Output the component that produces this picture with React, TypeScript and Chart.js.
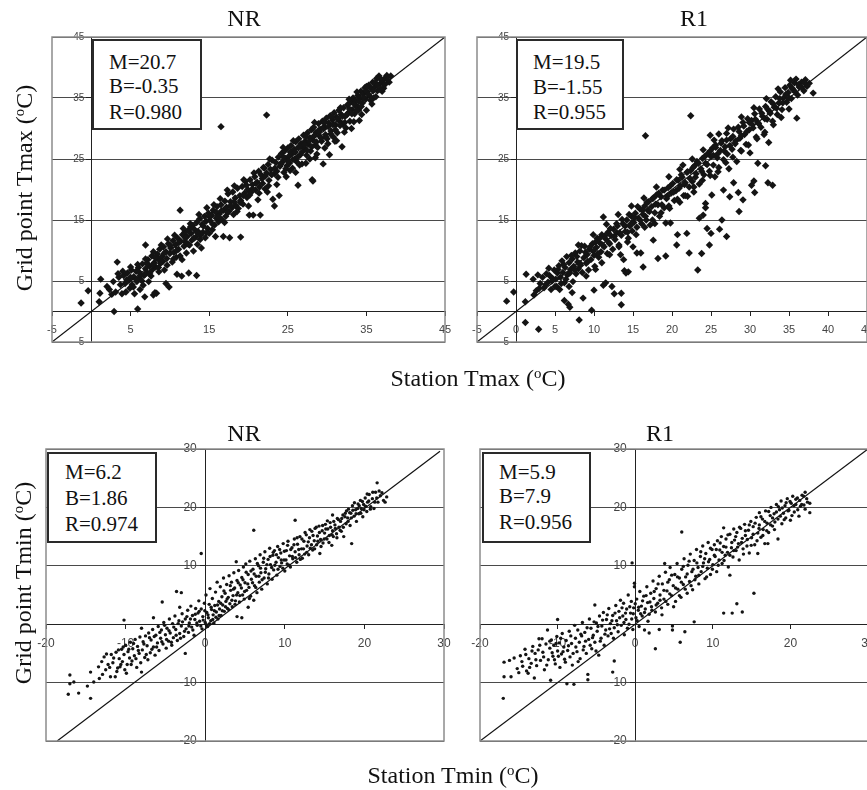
import React, { useEffect, useRef } from 'react';
import { Chart, registerables } from 'chart.js';
Chart.register(...registerables);

// ---------- tick labels ----------
const tmaxXTicksNR = [-5, 5, 15, 25, 35, 45];
const tmaxXTicksR1 = [-5, 0, 5, 10, 15, 20, 25, 30, 35, 40, 45];
const tmaxYTicks = [-5, 5, 15, 25, 35, 45];
const tminXTicks = [-20, -10, 0, 10, 20, 30];
const tminYTicks = [-20, -10, 10, 20, 30];

// ---------- stats boxes ----------
const statsTmaxNR = ['M=20.7', 'B=-0.35', 'R=0.980'];
const statsTmaxR1 = ['M=19.5', 'B=-1.55', 'R=0.955'];
const statsTminNR = ['M=6.2', 'B=1.86', 'R=0.974'];
const statsTminR1 = ['M=5.9', 'B=7.9', 'R=0.956'];

// ---------- 1:1 reference lines (end points) ----------
const diagTmaxNR = [[-5, -5], [45, 45]];
const diagTmaxR1 = [[-5, -5], [45, 45]];
const diagTminNR = [[-18.6, -20], [29.5, 29.6]];
const diagTminR1 = [[-20, -20], [30, 30]];

// ---------- station (x) vs grid point (y) values ----------
const tmaxNR = [
[-1.3,1.4],[-0.4,3.4],[1.1,3.0],[1.2,5.3],[1.0,1.6],[2.0,4.1],[2.3,3.6],[2.6,2.8],[2.9,0.0],[2.8,4.9],[3.3,8.1],[3.1,3.2],[3.5,5.6],[3.7,4.4],[3.9,2.9],
[4.1,5.9],[4.3,4.6],[4.4,3.2],[4.6,6.3],[4.8,5.1],[4.9,3.8],[5.1,6.8],[5.2,4.4],[5.4,5.7],[5.5,2.9],[5.7,6.6],[5.8,4.9],[5.9,0.4],[6.0,7.2],[6.1,5.5],[6.2,3.6],[6.3,6.1],[6.5,7.8],[6.6,4.3],[6.7,5.9],[6.8,2.4],[6.9,10.9],[6.9,7.0],[7.1,6.4],[7.2,8.5],[7.3,4.9],[7.4,7.5],[7.6,5.8],[7.7,9.1],[7.8,6.9],[7.9,2.7],[8.0,8.0],[8.1,3.1],[8.2,7.3],
[8.3,3.0],[8.4,9.4],[8.5,8.6],[8.6,6.5],[8.7,10.2],[8.8,7.9],[9.0,9.0],[9.1,8.2],[9.2,10.6],[9.3,6.8],[9.5,4.6],[9.5,9.8],[9.6,8.7],[9.8,11.1],[9.9,4.0],[10.0,9.5],[10.1,10.4],[10.3,8.1],[10.4,11.6],[10.5,9.7],[10.7,10.9],[10.8,8.9],[10.9,6.1],[11.0,12.0],[11.1,10.2],[11.3,16.6],[11.3,9.1],[11.4,11.5],[11.5,5.8],[11.6,12.6],[11.8,10.7],[11.9,13.0],[12.0,11.4],[12.1,9.6],
[12.2,12.3],[12.4,6.3],[12.4,13.4],[12.5,10.9],[12.7,12.8],[12.8,11.7],[12.9,14.1],[13.0,9.9],[13.1,13.5],[13.3,12.2],[13.4,5.9],[13.4,14.6],[13.5,11.0],[13.6,13.1],[13.8,15.2],[13.9,12.5],[14.0,10.4],[14.1,14.3],[14.2,13.0],[14.4,15.6],[14.5,12.1],[14.6,14.8],[14.8,13.6],[14.9,16.1],[15.0,12.8],[15.1,14.9],[15.3,15.8],[15.4,13.4],[15.5,16.6],[15.7,14.2],[15.8,12.3],[15.9,15.3],
[16.0,17.2],[16.2,14.7],[16.3,16.0],[16.5,30.3],[16.5,17.5],[16.6,15.1],[16.8,12.3],[16.8,16.6],[17.0,18.1],[17.1,15.6],[17.2,17.1],[17.4,19.3],[17.5,16.4],[17.6,12.1],[17.7,18.0],[17.9,17.0],[18.0,19.6],[18.1,15.9],[18.3,18.6],[18.4,17.4],[18.6,20.2],[18.7,16.9],[18.9,19.0],[19.0,12.2],[19.0,18.2],[19.2,20.5],[19.3,17.6],[19.5,19.4],[19.6,21.3],[19.8,18.7],[19.9,20.0],
[20.1,15.8],[20.2,21.6],[20.3,19.5],[20.5,20.8],[20.6,15.8],[20.8,22.1],[20.9,19.9],[21.1,21.2],[21.3,23.0],[21.4,20.4],[21.5,15.8],[21.6,22.4],[21.8,21.0],[22.0,23.5],[22.1,20.1],[22.3,32.2],[22.3,22.7],[22.5,24.1],[22.6,21.5],[22.8,23.3],[23.0,24.8],[23.1,18.4],[23.3,17.3],[23.3,22.6],[23.5,24.4],[23.6,23.0],[23.8,25.3],[23.9,19.0],[24.0,23.8],
[24.2,25.9],[24.3,24.5],[24.5,22.8],[24.6,26.3],[24.7,25.1],[24.9,23.9],[25.0,26.8],[25.1,25.4],[25.2,24.3],[25.4,27.2],[25.5,25.8],[25.6,23.5],[25.8,26.6],[25.9,25.0],[26.0,27.8],[26.1,24.6],[26.3,20.7],[26.3,26.9],[26.4,28.3],[26.6,25.7],[26.7,27.5],[26.8,24.2],[27.0,28.9],[27.1,26.8],[27.2,27.9],[27.4,25.6],[27.5,29.3],[27.6,27.4],[27.8,28.5],[27.9,26.3],[28.0,29.8],[28.1,21.6],
[28.2,21.4],[28.2,28.1],[28.3,30.2],[28.5,27.3],[28.6,29.4],[28.7,25.8],[28.9,30.8],[29.0,28.8],[29.1,29.9],[29.3,27.9],[29.4,31.2],[29.5,24.2],[29.6,30.3],[29.8,29.0],[29.9,31.7],[30.0,28.3],[30.2,30.9],[30.3,25.7],[30.4,32.1],[30.5,29.6],[30.7,31.4],[30.8,28.6],[30.9,32.6],[31.1,30.6],[31.2,31.9],[31.3,29.3],[31.5,33.0],[31.6,31.2],[31.8,32.3],[31.9,27.0],[32.0,30.7],
[32.1,33.4],[32.3,32.0],[32.4,30.1],[32.6,33.9],[32.7,32.6],[32.9,31.2],[33.0,34.3],[33.2,33.1],[33.3,35.0],[33.5,32.4],[33.6,34.6],[33.7,33.7],[33.9,35.4],[34.0,33.0],[34.2,34.9],[34.3,36.1],[34.5,34.2],[34.6,35.6],[34.8,36.7],[34.9,34.8],[35.0,33.0],[35.1,36.0],[35.3,37.1],[35.4,35.3],[35.6,36.5],[35.8,37.6],[35.9,35.0],[36.1,36.9],[36.3,38.2],[36.4,36.2],[36.6,38.6],[36.8,37.4],[37.0,36.1],[37.2,36.6],[37.4,38.3],[37.6,38.7],[38.1,38.6],[37.9,37.6]
];
const tmaxNRMore = [
[4.5,5.2],[5.0,5.6],[5.35,4.0],[5.75,5.2],[6.05,6.5],[6.45,5.0],[6.85,6.1],[7.05,7.9],[7.45,6.3],[7.85,7.7],[8.15,8.8],[8.55,7.2],[8.95,8.1],[9.25,9.5],[9.65,7.6],[10.05,10.8],[10.45,8.6],[10.85,10.0],[11.15,11.3],[11.55,8.5],[11.95,12.1],[12.35,11.0],[12.65,13.9],[13.05,12.0],[13.45,13.0],[13.85,11.8],[14.25,14.0],[14.65,12.9],[15.05,15.5],[15.45,14.3],[15.85,16.3],[16.15,15.5],[16.55,16.5],[16.95,14.6],[17.35,16.2],[17.75,17.3],[18.15,18.0],[18.55,16.4],[18.95,17.9],[19.35,19.0],[19.75,20.7],[20.15,19.1],[20.55,20.1],[20.95,21.0],[21.35,19.4],[21.75,21.8],[22.15,22.2],[22.55,20.6],[22.95,22.4],[23.35,23.5],[23.75,22.0],[24.15,24.2],[24.45,25.3],[24.75,23.4],[25.05,24.6],[25.35,26.1],[25.65,24.9],[25.95,26.1],[26.25,25.3],[26.55,27.1],[26.85,26.2],[27.15,27.3],[27.45,26.4],[27.75,28.0],[28.05,27.0],[28.35,28.8],[28.65,27.8],[28.95,29.5],[29.25,28.4],[29.55,30.0],[29.85,28.6],[30.15,30.3],[30.45,29.1],[30.75,30.6],[31.05,29.8],[31.35,31.6],[31.65,30.5],[31.95,32.0],[32.25,31.0],[32.55,32.3],[32.85,33.2],[33.15,32.4],[33.45,34.0],[33.75,33.0],[34.05,34.4],[34.35,33.6],[34.65,35.1],[34.95,36.2],[35.25,35.6],[35.55,34.6],[35.85,36.2],[36.15,37.5],[36.45,37.1],[36.75,36.4],[37.05,37.8],[37.35,37.2],[37.7,38.0],
[24.4,26.9],[25.3,23.1],[25.7,28.0],[26.5,24.0],[27.3,28.7],[27.8,25.0],[28.4,31.0],[28.8,26.9],[29.7,31.0],[30.1,27.5],[30.6,31.9],[31.0,27.9],[31.7,33.4],[32.2,29.4],[32.8,34.8],[33.4,31.1],[33.8,36.0],[34.4,32.3],[35.0,36.9],[35.7,34.0],[36.2,35.2],[36.7,38.2],[22.7,25.0],[21.9,23.6],[20.7,22.7],[19.4,21.6],[18.2,20.6],[17.3,19.9],[16.4,18.5],[15.6,17.5],[14.7,17.0],[13.7,15.9],[12.6,14.4],[11.7,13.6],[10.6,12.5],[9.7,11.9],[8.9,10.9],[7.9,9.8],[6.9,8.6],[5.9,7.7],[5.0,7.3],[4.0,6.6],[3.4,6.2],[20.0,17.3],[21.2,18.3],[22.4,19.6],[23.6,20.8],[24.8,22.1],[26.0,22.8],[27.3,24.3],[28.5,25.2],[29.7,26.8],[31.2,28.0],[33.1,30.0],[34.1,31.3]
];

const tmaxR1 = [
[-1.2,1.7],[-0.3,3.2],[1.2,-1.8],[1.3,6.1],[1.2,1.6],[2.9,-2.9],[2.3,2.7],[2.6,3.4],[2.2,5.3],[2.8,6.0],[3.1,4.6],[3.4,5.6],[3.6,3.9],[3.9,6.2],[4.1,4.8],[4.3,5.9],[4.5,3.6],[4.7,5.4],[4.9,6.8],[5.0,4.1],[5.2,4.1],[5.3,6.3],[5.5,7.5],[5.6,3.6],[5.7,5.6],[5.9,8.3],[6.0,6.4],[6.2,1.8],[6.2,4.7],[6.3,7.2],[6.5,9.0],[6.6,6.0],[6.7,1.2],[6.8,4.1],[6.8,8.0],[6.9,0.7],[7.0,6.9],[7.2,3.1],[7.2,8.6],[7.3,4.9],[7.4,7.4],[7.6,9.6],[7.7,6.2],[7.9,8.1],[8.0,7.0],[8.1,-1.4],[8.2,9.9],[8.3,7.6],[8.5,6.4],[8.6,2.2],[8.7,8.8],[8.8,10.7],[9.0,7.9],[9.1,9.3],[9.3,6.8],[9.4,10.2],[9.6,8.5],[9.7,0.2],[9.8,11.1],[10.0,3.5],[10.0,9.2],[10.1,7.4],
[10.3,10.5],[10.4,12.0],[10.6,8.9],[10.7,11.3],[10.9,9.8],[11.0,12.6],[11.2,4.3],[11.2,15.5],[11.3,10.6],[11.5,4.7],[11.5,11.9],[11.7,9.5],[11.8,13.0],[12.0,11.1],[12.2,12.4],[12.3,4.1],[12.4,10.2],[12.5,13.5],[12.6,2.9],[12.7,11.8],[12.9,12.9],[13.0,14.0],[13.2,10.9],[13.4,9.3],[13.5,3.0],[13.5,1.1],[13.5,12.5],[13.7,14.4],[13.8,8.5],[13.9,6.7],[14.0,13.1],[14.1,6.3],[14.2,15.0],[14.4,6.5],[14.4,12.0],[14.6,14.0],[14.8,15.6],[14.9,13.2],[15.0,10.6],
[15.1,14.6],[15.3,16.1],[15.5,9.6],[15.5,13.8],[15.7,15.3],[15.9,16.8],[16.0,9.6],[16.1,14.4],[16.3,7.3],[16.3,15.9],[16.5,17.3],[16.6,28.8],[16.7,15.0],[16.9,16.6],[17.0,18.0],[17.2,14.2],[17.4,17.2],[17.6,11.7],[17.6,18.6],[17.8,14.4],[17.8,16.2],[18.0,19.1],[18.2,8.7],[18.2,17.5],[18.4,15.6],[18.6,18.8],[18.8,19.9],[19.0,17.0],[19.2,9.1],[19.2,14.5],[19.3,18.5],[19.5,20.3],[19.7,16.9],[19.8,14.5],[19.9,19.4],
[20.1,21.0],[20.3,18.2],[20.5,19.8],[20.6,10.9],[20.7,12.6],[20.8,21.5],[21.0,17.9],[21.1,20.6],[21.3,22.0],[21.4,24.0],[21.5,19.0],[21.7,21.1],[21.9,12.8],[21.9,22.8],[22.0,18.9],[22.2,9.6],[22.2,20.4],[22.4,32.1],[22.4,23.1],[22.6,21.3],[22.8,19.6],[22.9,23.9],[23.0,22.0],[23.2,24.6],[23.3,6.8],[23.5,15.3],[23.5,20.9],[23.7,23.4],[23.8,9.5],[23.9,25.1],[24.0,15.8],[24.1,22.4],[24.3,17.0],[24.3,17.7],[24.3,24.3],[24.5,13.6],[24.6,25.9],[24.8,10.9],[24.8,23.0],[24.9,28.9],[25.0,12.8],[25.0,25.4],
[25.1,19.1],[25.2,26.8],[25.3,24.0],[25.5,22.1],[25.6,27.3],[25.8,25.2],[26.0,29.1],[26.0,23.6],[26.1,13.5],[26.2,26.4],[26.4,15.0],[26.4,28.0],[26.6,19.9],[26.6,24.9],[26.8,27.0],[27.0,12.3],[27.0,29.2],[27.1,25.8],[27.3,23.4],[27.4,18.8],[27.5,28.3],[27.7,26.6],[27.9,21.1],[27.9,29.9],[28.1,27.5],[28.3,24.6],[28.5,19.5],[28.5,30.2],[28.6,16.4],[28.7,28.4],[28.9,26.3],[29.1,18.3],[29.1,31.0],[29.3,29.0],[29.5,27.4],[29.7,31.6],[29.9,29.8],
[30.0,26.0],[30.2,20.7],[30.2,31.3],[30.4,30.1],[30.5,21.4],[30.6,19.5],[30.6,32.4],[30.8,28.6],[31.0,24.3],[31.0,31.0],[31.2,33.2],[31.4,30.2],[31.6,32.0],[31.8,29.0],[32.0,23.9],[32.0,33.6],[32.2,31.5],[32.3,21.1],[32.4,27.7],[32.5,32.8],[32.7,34.4],[32.9,20.7],[32.9,31.2],[33.1,33.5],[33.3,35.2],[33.5,32.3],[33.7,34.2],[33.9,36.0],[34.1,33.1],[34.3,35.0],[34.5,36.7],[34.7,34.3],[34.9,35.9],[35.1,37.1],[35.3,34.9],[35.5,36.4],[35.7,37.5],[35.9,38.1],[36.0,31.7],[36.1,35.5],[36.3,36.8],[36.6,37.6],[36.9,36.2],[37.1,38.0],[37.3,36.9],[38.1,35.8],[37.6,37.4]
];
const tmaxR1More = [
[3.0,3.8],[3.8,4.4],[4.2,7.1],[4.6,5.0],[5.1,5.3],[5.4,6.9],[5.8,4.6],[6.1,7.7],[6.4,5.3],[6.9,6.3],[7.1,9.2],[7.5,6.8],[7.8,9.0],[8.2,7.9],[8.4,10.8],[8.9,9.7],[9.2,8.2],[9.5,10.6],[9.9,9.9],[10.2,11.4],[10.5,9.5],[10.8,12.1],[11.1,10.9],[11.4,12.4],[11.9,11.3],[12.1,13.6],[12.6,12.3],[12.9,14.4],[13.3,12.9],[13.6,15.1],[14.0,14.0],[14.3,13.0],[14.5,15.9],[14.9,14.6],[15.2,15.4],[15.6,17.2],[15.9,15.0],[16.2,16.6],[16.6,15.6],[16.8,17.9],[17.1,16.4],[17.5,18.5],[17.9,17.6],[18.3,19.4],[18.7,17.5],[19.0,19.9],[19.4,18.9],[19.8,20.6],[20.2,19.6],[20.6,21.6],[20.9,20.2],[21.2,22.4],[21.6,20.8],[22.0,22.9],[22.3,21.8],[22.7,23.6],[23.1,22.6],[23.4,24.3],[23.8,23.0],[24.2,25.4],[24.5,24.1],[24.9,26.3],[25.3,25.6],[25.6,26.9],[25.9,25.9],[26.3,27.6],[26.7,26.3],[27.0,28.1],[27.4,27.2],[27.8,28.7],[28.2,28.0],[28.6,29.5],[28.9,28.8],[29.2,30.4],[29.6,29.5],[29.9,31.0],[30.3,30.6],[30.7,31.5],[31.1,30.8],[31.5,32.5],[31.9,31.6],[32.3,33.1],[32.6,32.5],[33.0,34.0],[33.4,33.3],[33.8,34.9],[34.2,34.2],[34.6,35.6],[35.0,35.0],[35.4,36.6],[35.8,36.0],[36.2,37.2],[36.6,36.8],[37.0,37.5],
[12.0,9.3],[13.2,10.6],[14.3,11.4],[15.4,12.6],[16.5,13.8],[17.5,15.0],[18.6,16.2],[19.6,17.3],[20.7,18.4],[21.7,19.0],[22.8,20.4],[23.9,21.5],[24.9,22.3],[25.9,22.9],[26.9,24.4],[27.8,25.3],[28.8,26.4],[29.8,27.3],[30.9,28.3],[31.9,29.4],[33.0,30.6],[34.0,31.8],[35.0,33.2],[9.0,5.8],[10.2,6.9],[11.0,8.0],
[8.0,10.9],[9.9,12.6],[11.6,14.3],[13.1,15.9],[14.8,17.3],[16.4,18.6],[18.0,20.4],[19.6,22.1],[21.0,23.3],[22.6,25.0],[24.0,26.5],[25.4,28.1],[27.2,30.1],[28.9,31.9],[30.5,33.4],[32.1,34.9],[33.6,36.5],[35.2,37.9]
];

const tminNR = [
[-17.2,-12.0],[-17.0,-8.7],[-17.0,-10.2],[-16.5,-9.9],[-15.9,-11.8],[-14.8,-10.6],[-14.4,-12.7],[-14.4,-8.2],[-14.0,-9.9],[-13.4,-7.3],[-13.3,-9.3],[-13.0,-6.4],[-12.7,-5.6],[-12.5,-7.8],[-12.2,-6.9],[-11.9,-9.0],[-11.8,-5.2],[-11.6,-6.6],[-11.3,-9.0],[-11.2,-4.8],[-11.0,-7.5],[-10.8,-5.9],[-10.7,-7.3],[-10.5,-4.3],[-10.4,-6.4],[-10.2,0.7],[-10.2,-5.2],[-10.0,-3.6],[-9.9,-8.4],[-9.8,-6.9],[-9.7,-4.7],[-9.5,-5.8],[-9.4,-3.1],[-9.2,-6.3],[-9.1,-4.2],[-8.9,-5.4],[-8.8,-2.6],[-8.6,-7.4],[-8.5,-3.8],[-8.3,-5.0],[-8.2,-2.2],[-8.0,-8.2],[-8.0,-0.7],[-7.9,-4.4],[-7.8,-3.0],[-7.6,-5.7],[-7.5,-2.0],[-7.3,-3.7],[-7.2,-6.1],[-7.1,-1.5],[-6.9,-4.9],[-6.8,-2.7],[-6.6,-0.9],[-6.5,1.1],[-6.5,-3.9],[-6.3,-5.3],[-6.2,-1.9],[-6.0,-3.2],[-5.9,-0.4],[-5.8,-4.5],[-5.6,-2.4],[-5.5,-1.0],[-5.4,3.8],[-5.3,-3.4],[-5.2,0.3],[-5.0,-1.8],[-4.9,-4.1],[-4.8,-0.7],[-4.6,-2.9],[-4.5,0.9],[-4.4,-1.5],[-4.2,-3.6],[-4.1,0.1],[-4.0,-2.3],[-3.8,1.4],[-3.7,-0.9],[-3.6,5.6],[-3.5,-2.8],[-3.3,0.6],[-3.2,2.9],[-3.2,-1.6],[-3.0,5.4],[-3.0,-0.3],[-2.9,1.8],[-2.7,-2.1],[-2.5,-5.0],[-2.5,0.9],[-2.4,-0.8],[-2.2,2.4],[-2.1,-1.4],[-2.0,0.2],[-1.8,3.1],[-1.7,-0.5],[-1.6,1.5],[-1.4,-1.9],[-1.3,0.8],[-1.2,2.7],[-1.0,-0.2],[-0.9,1.9],[-0.8,4.0],[-0.7,0.5],[-0.5,12.1],[-0.5,2.6],[-0.4,-0.8],[-0.3,1.3],[-0.1,3.6],
[0.0,0.3],[0.1,5.0],[0.2,2.0],[0.3,-0.4],[0.4,1.1],[0.5,3.4],[0.6,6.1],[0.7,0.6],[0.8,2.5],[0.9,4.4],[1.0,1.6],[1.1,0.2],[1.2,3.2],[1.3,5.5],[1.4,2.1],[1.5,7.2],[1.6,0.9],[1.7,3.9],[1.8,2.6],[1.9,6.4],[2.0,1.5],[2.1,4.7],[2.2,3.3],[2.3,7.9],[2.4,2.2],[2.5,5.3],[2.6,3.9],[2.7,6.8],[2.8,2.7],[2.9,4.6],[3.0,8.3],[3.1,3.5],[3.2,5.8],[3.3,7.2],[3.4,3.0],[3.5,4.9],[3.6,8.8],[3.7,6.2],[3.9,10.7],[3.8,4.0],[4.0,1.3],[4.0,7.5],[4.1,5.4],[4.2,9.2],[4.3,3.8],[4.4,6.7],[4.6,1.1],[4.6,8.0],[4.7,5.0],[4.8,9.8],[4.9,4.3],[5.0,7.1],[5.1,10.3],[5.2,5.8],[5.4,2.9],[5.4,8.5],[5.5,6.3],[5.6,10.8],[5.7,4.8],[5.8,7.7],[6.0,9.4],[6.1,16.1],[6.1,4.1],[6.2,6.6],[6.3,11.2],[6.4,8.2],[6.5,5.4],[6.7,10.0],[6.8,7.2],[6.9,11.9],[7.0,8.8],[7.1,6.0],[7.3,10.6],[7.4,7.9],[7.5,12.4],[7.6,9.5],[7.8,6.9],[7.9,11.1],[8.0,8.6],[8.1,13.0],[8.2,10.2],[8.4,7.7],[8.5,11.8],[8.6,9.3],[8.7,12.6],[8.9,10.6],[9.0,8.4],[9.1,13.3],[9.2,11.4],[9.4,9.9],[9.5,12.2],[9.6,10.5],[9.8,13.8],[9.9,11.0],
[10.0,9.1],[10.2,12.6],[10.3,10.3],[10.4,14.2],[10.6,11.7],[10.7,9.8],[10.9,13.1],[11.0,11.2],[11.2,14.6],[11.3,17.8],[11.3,12.4],[11.5,10.6],[11.6,13.7],[11.8,11.9],[11.9,15.0],[12.1,12.9],[12.2,11.3],[12.4,14.2],[12.5,12.0],[12.7,15.3],[12.8,13.4],[13.0,11.9],[13.1,14.8],[13.2,13.0],[13.4,15.9],[13.5,12.7],[13.7,14.3],[13.8,16.4],[14.0,13.6],[14.1,15.1],[14.3,16.8],[14.4,12.1],[14.5,14.5],[14.7,16.0],[14.8,13.9],[15.0,15.6],[15.1,17.1],[15.3,14.6],[15.4,16.3],[15.6,15.2],[15.7,17.4],[15.9,13.5],[16.0,18.7],[16.0,16.0],[16.1,15.0],[16.3,17.0],[16.5,15.5],[16.6,18.1],[16.8,16.6],[17.0,17.6],[17.1,15.9],[17.3,18.7],[17.4,15.0],[17.6,19.0],[17.7,17.2],[17.9,18.2],[18.0,19.7],[18.2,16.9],[18.3,19.0],[18.4,13.8],[18.5,20.3],[18.7,18.5],[18.9,19.6],[19.0,17.6],[19.2,20.6],[19.3,18.9],[19.5,21.2],[19.6,19.8],[19.8,18.4],[19.9,20.5],[20.1,21.6],[20.3,19.3],[20.4,20.9],[20.6,22.2],[20.8,20.1],[21.0,21.5],[21.2,19.8],[21.4,22.6],[21.6,24.2],[21.7,20.9],[22.0,22.0],[22.4,21.2],[22.8,21.8]
];
const tminNRMore = [
[-12.9,-8.6],[-12.4,-5.1],[-12.0,-7.4],[-11.5,-5.8],[-11.1,-8.1],[-10.9,-4.4],[-10.6,-6.9],[-10.3,-3.9],[-10.1,-7.8],[-9.6,-4.3],[-9.3,-6.9],[-9.0,-3.3],[-8.7,-5.9],[-8.4,-4.5],[-8.1,-6.6],[-7.7,-3.4],[-7.4,-5.2],[-7.0,-2.3],[-6.7,-4.3],[-6.4,-2.1],[-6.1,-3.9],[-5.7,-1.4],[-5.45,-3.0],[-5.1,-0.2],[-4.85,-2.6],[-4.55,-1.1],[-4.25,-3.1],[-3.95,-0.5],[-3.65,-1.9],[-3.4,0.1],[-3.1,-2.4],[-2.85,0.4],[-2.6,-1.2],[-2.3,1.3],[-2.05,-0.3],[-1.85,0.9],[-1.55,-1.0],[-1.25,1.7],[-1.05,0.2],[-0.75,2.2],[-0.55,-0.3],[-0.25,0.7],[-0.05,2.3],[0.15,-0.1],[0.35,1.6],[0.55,0.1],[0.75,2.9],[0.95,0.8],[1.15,2.3],[1.35,1.2],[1.55,3.3],[1.75,1.5],[1.95,3.6],[2.15,2.3],[2.35,5.7],[2.55,3.0],[2.75,4.3],[2.95,2.5],[3.15,6.6],[3.35,4.1],[3.55,6.0],[3.75,3.4],[3.95,5.0],[4.15,7.1],[4.35,4.9],[4.55,6.2],[4.75,7.6],[4.95,5.6],[5.15,8.9],[5.35,6.9],[5.55,4.4],[5.75,9.1],[5.95,7.1],[6.15,8.6],[6.35,6.3],[6.55,10.4],[6.75,8.2],[6.95,9.6],[7.15,7.6],[7.35,11.3],[7.55,8.9],[7.75,10.2],[7.95,7.9],[8.15,11.6],[8.35,9.7],[8.55,12.3],[8.75,10.1],[8.95,11.9],[9.15,9.4],[9.35,12.8],[9.55,11.0],[9.75,9.6],[9.95,12.5],[10.15,11.0],[10.35,13.5],[10.55,10.1],[10.75,12.8],[10.95,11.6],[11.15,13.6],[11.35,11.4],[11.55,14.8],[11.75,12.8],[11.95,11.1],[12.15,14.6],[12.35,12.9],[12.55,15.7],[12.75,12.3],[12.95,14.1],[13.15,16.2],[13.35,13.6],[13.55,15.2],[13.75,12.9],[13.95,16.6],[14.15,14.2],[14.35,15.7],[14.55,13.3],[14.75,16.9],[14.95,14.6],[15.15,16.3],[15.35,17.7],[15.55,14.0],[15.75,16.6],[15.95,15.3],[16.15,17.6],[16.35,16.4],[16.55,14.8],[16.75,17.9],[16.95,16.1],[17.15,18.1],[17.35,16.6],[17.55,18.4],[17.75,19.4],[17.95,17.6],[18.15,19.1],[18.35,18.2],[18.55,19.5],[18.75,20.8],[18.95,18.9],[19.15,19.8],[19.35,20.3],[19.55,19.0],[19.75,21.0],[19.95,19.6],[20.15,20.2],[20.35,22.3],[20.55,21.1],[20.75,19.7],[21.05,22.6],[21.3,20.9],[21.55,21.6],[21.85,22.8],[22.2,22.5],[22.6,20.9]
];

const tminR1 = [
[-17.0,-12.7],[-16.9,-9.0],[-16.9,-6.5],[-16.2,-6.2],[-16.0,-9.0],[-15.2,-7.6],[-14.8,-5.4],[-14.5,-7.2],[-14.2,-4.3],[-14.0,-8.0],[-13.8,-8.4],[-13.7,-5.9],[-13.4,-6.7],[-13.2,-3.8],[-13.0,-9.2],[-12.9,-5.0],[-12.7,-7.1],[-12.5,-4.4],[-12.4,-2.5],[-12.2,-6.2],[-12.0,-2.5],[-11.9,-4.8],[-11.7,-7.8],[-11.5,-3.4],[-11.3,-1.0],[-11.2,-6.1],[-11.0,-4.1],[-10.9,-9.6],[-10.8,-2.7],[-10.6,-5.5],[-10.5,-3.6],[-10.3,-6.8],[-10.1,-2.1],[-10.0,0.8],[-10.0,-4.6],[-9.8,-3.2],[-9.7,-7.4],[-9.5,-5.1],[-9.4,-1.6],[-9.2,-3.9],[-9.1,-6.0],[-8.9,-2.8],[-8.8,-10.2],[-8.7,-4.5],[-8.5,-1.2],[-8.4,-5.6],[-8.2,-3.3],[-8.1,-7.0],[-7.9,-10.3],[-7.8,-0.2],[-7.7,-2.4],[-7.5,-4.7],[-7.4,-1.0],[-7.2,-3.1],[-7.1,-5.9],[-6.9,-2.0],[-6.8,0.3],[-6.6,-3.8],[-6.5,-1.4],[-6.3,-5.0],[-6.1,-9.5],[-6.1,-8.6],[-6.0,-2.6],[-5.9,0.9],[-5.7,-0.7],[-5.6,-4.2],[-5.4,-1.9],[-5.2,3.3],[-5.2,-3.1],[-5.0,0.2],[-4.9,-1.2],[-4.7,-5.3],[-4.6,1.4],[-4.4,-2.4],[-4.3,-0.3],[-4.1,2.0],[-4.0,-3.6],[-3.8,-1.0],[-3.7,0.8],[-3.5,-2.0],[-3.4,2.7],[-3.2,0.1],[-3.1,-1.6],[-2.9,-8.2],[-2.9,1.5],[-2.7,-6.3],[-2.7,-0.6],[-2.5,3.2],[-2.4,0.6],[-2.2,-1.3],[-2.1,2.2],[-1.9,4.1],[-1.8,-0.2],[-1.6,1.4],[-1.5,3.6],[-1.4,-1.8],[-1.2,0.8],[-1.1,2.6],[-0.9,5.0],[-0.8,0.0],[-0.6,1.9],[-0.5,3.9],[-0.4,10.5],[-0.3,-0.9],[-0.2,2.8],[-0.1,7.0],[-0.1,6.4],
[0.1,1.1],[0.2,4.3],[0.4,2.4],[0.5,-0.4],[0.6,5.6],[0.8,3.1],[0.9,1.4],[1.1,4.8],[1.2,-1.0],[1.3,2.6],[1.5,6.4],[1.6,3.7],[1.8,-1.5],[1.8,1.7],[2.0,5.3],[2.1,3.0],[2.3,7.4],[2.4,4.4],[2.6,-4.2],[2.6,2.1],[2.7,6.1],[2.9,3.6],[3.1,-0.9],[3.1,8.2],[3.2,5.0],[3.4,2.8],[3.5,6.9],[3.7,4.3],[3.8,10.4],[3.9,8.9],[4.1,5.7],[4.2,3.4],[4.4,7.6],[4.5,9.7],[4.7,4.9],[4.8,-0.3],[4.8,-1.0],[4.9,6.6],[5.1,8.5],[5.2,3.9],[5.4,10.4],[5.5,6.0],[5.7,7.9],[5.8,-3.1],[5.9,4.6],[6.0,15.8],[6.0,9.4],[6.2,6.8],[6.3,11.2],[6.4,-1.3],[6.5,8.1],[6.7,5.3],[6.8,10.1],[7.0,7.3],[7.1,12.0],[7.3,9.0],[7.4,5.9],[7.6,0.4],[7.6,10.9],[7.8,8.2],[7.9,12.8],[8.1,9.7],[8.2,6.9],[8.4,11.6],[8.5,9.0],[8.7,13.4],[8.8,10.5],[9.0,7.8],[9.1,12.1],[9.3,9.6],[9.4,14.0],[9.6,11.1],[9.7,8.5],[9.9,12.8],
[10.0,10.2],[10.2,13.6],[10.3,11.6],[10.5,9.0],[10.6,14.3],[10.8,11.0],[10.9,12.7],[11.1,15.0],[11.2,10.4],[11.4,1.9],[11.4,16.5],[11.4,13.3],[11.6,11.8],[11.7,14.6],[11.9,12.3],[12.0,9.8],[12.2,8.4],[12.2,15.4],[12.4,13.1],[12.5,1.9],[12.6,11.5],[12.7,16.3],[12.8,14.4],[13.0,12.6],[13.1,3.5],[13.1,15.7],[13.3,13.8],[13.4,11.0],[13.6,16.4],[13.8,2.1],[13.8,14.7],[13.9,12.9],[14.1,17.1],[14.2,15.2],[14.4,13.4],[14.6,16.1],[14.7,12.2],[14.9,17.6],[15.0,14.8],[15.2,16.7],[15.3,5.3],[15.4,13.6],[15.6,18.3],[15.8,12.1],[15.8,15.6],[16.0,19.1],[16.0,17.0],[16.2,14.9],[16.4,18.0],[16.5,16.2],[16.7,13.8],[16.8,19.4],[17.0,17.3],[17.1,13.8],[17.2,15.7],[17.4,18.6],[17.5,20.0],[17.7,16.8],[17.9,18.9],[18.0,17.5],[18.2,20.5],[18.4,14.6],[18.4,18.0],[18.6,19.6],[18.8,21.1],[18.9,17.2],[19.1,19.0],[19.3,20.3],[19.4,18.2],[19.6,21.5],[19.8,19.5],[20.0,17.8],[20.1,20.7],[20.3,21.9],[20.5,19.2],[20.7,20.5],[20.9,21.6],[21.1,18.5],[21.3,20.2],[21.5,22.1],[21.7,21.9],[21.9,19.7],[21.9,22.6],[22.2,20.9],[22.5,19.1],[22.5,20.7]
];
const tminR1More = [
[-15.6,-5.8],[-15.0,-8.3],[-14.6,-6.4],[-14.1,-5.2],[-13.6,-7.4],[-13.3,-4.6],[-12.8,-6.1],[-12.3,-3.6],[-11.8,-5.6],[-11.4,-7.0],[-11.0,-2.9],[-10.7,-4.9],[-10.4,-6.1],[-10.2,-3.3],[-9.9,-5.5],[-9.6,-2.4],[-9.3,-4.7],[-9.0,-6.5],[-8.6,-3.7],[-8.3,-2.0],[-8.0,-5.0],[-7.65,-3.9],[-7.35,-6.4],[-7.0,-1.7],[-6.7,-4.4],[-6.4,-2.9],[-6.2,-0.6],[-5.8,-3.6],[-5.5,-2.3],[-5.3,0.4],[-5.05,-4.6],[-4.8,-0.4],[-4.5,-2.9],[-4.2,0.7],[-3.9,-1.7],[-3.6,1.6],[-3.3,-0.8],[-3.0,0.6],[-2.8,-2.4],[-2.6,1.9],[-2.3,-0.1],[-2.0,1.1],[-1.7,2.8],[-1.45,0.3],[-1.25,1.9],[-1.0,-0.7],[-0.7,3.0],[-0.45,0.9],[-0.25,1.8],[0.0,3.5],[0.25,0.6],[0.45,2.9],[0.7,1.8],[0.95,4.0],[1.2,2.0],[1.4,4.9],[1.65,0.5],[1.9,3.8],[2.15,2.4],[2.45,5.6],[2.7,3.3],[2.95,6.9],[3.2,4.1],[3.45,1.6],[3.7,5.8],[3.95,3.9],[4.2,7.2],[4.45,5.2],[4.7,8.4],[4.95,3.0],[5.2,6.2],[5.45,8.1],[5.7,4.9],[5.95,7.2],[6.2,9.9],[6.45,6.0],[6.7,8.6],[6.95,10.8],[7.2,6.6],[7.45,9.4],[7.7,7.6],[7.95,10.5],[8.2,8.4],[8.45,12.4],[8.7,9.9],[8.95,11.2],[9.2,8.1],[9.45,10.7],[9.7,13.0],[9.95,9.4],[10.2,11.8],[10.45,12.8],[10.7,10.1],[10.95,13.9],[11.2,12.3],[11.45,10.9],[11.7,13.2],[11.95,15.3],[12.2,11.8],[12.45,14.0],[12.7,12.6],[12.95,15.0],[13.2,13.2],[13.45,16.6],[13.7,14.0],[13.95,12.0],[14.2,16.0],[14.45,14.5],[14.7,17.0],[14.95,13.5],[15.2,15.4],[15.45,17.3],[15.7,14.3],[15.95,16.4],[16.2,18.4],[16.45,15.2],[16.7,17.6],[16.95,16.0],[17.2,19.3],[17.45,17.0],[17.7,18.2],[17.95,16.2],[18.2,19.2],[18.45,20.1],[18.7,18.5],[18.95,19.9],[19.2,17.9],[19.45,20.8],[19.7,19.4],[19.95,21.0],[20.2,18.6],[20.45,20.3],[20.7,21.4],[20.95,19.6],[21.2,21.2],[21.45,20.5],[21.75,20.4],[22.1,21.5]
];

const SERIF = '"Liberation Serif", "Times New Roman", Times, serif';
const SANS = '"Liberation Sans", Arial, Helvetica, sans-serif';

const framePlugin = {
  id: 'frame',
  afterDraw(chart: any) {
    const { ctx, chartArea: a } = chart;
    ctx.save();
    ctx.strokeStyle = '#8c8c8c';
    ctx.lineWidth = 1.5;
    ctx.strokeRect(Math.round(a.left), Math.round(a.top), Math.round(a.right - a.left), Math.round(a.bottom - a.top));
    ctx.restore();
  },
};

type PanelProps = {
  left: number; top: number; w: number; h: number;
  pad: { left: number; top: number; right: number; bottom: number };
  range: [number, number];
  xTicks: number[]; yTicks: number[];
  points: number[][]; diag: number[][];
  style: string; radius: number;
  xFont: number; yFont: number; yGap: string;
};

function Panel(p: PanelProps) {
  const ref = useRef<HTMLCanvasElement>(null);
  useEffect(() => {
    const chart = new Chart(ref.current as HTMLCanvasElement, {
      type: 'scatter',
      data: {
        datasets: [
          {
            data: p.points.map(([x, y]) => ({ x, y })),
            pointStyle: p.style as any,
            pointRadius: p.radius,
            backgroundColor: '#141414',
            borderColor: '#141414',
            borderWidth: 0,
          } as any,
          {
            type: 'line',
            data: p.diag.map(([x, y]) => ({ x, y })),
            borderColor: '#111',
            borderWidth: 1.2,
            pointRadius: 0,
            fill: false,
          } as any,
        ],
      },
      options: {
        responsive: false,
        animation: false,
        devicePixelRatio: 1,
        layout: { padding: p.pad },
        plugins: { legend: { display: false }, tooltip: { enabled: false }, title: { display: false } },
        scales: {
          x: {
            type: 'linear',
            min: p.range[0],
            max: p.range[1],
            position: { y: 0 } as any,
            afterBuildTicks: (ax: any) => { ax.ticks = p.xTicks.map((v) => ({ value: v })); },
            grid: { drawOnChartArea: false, drawTicks: true, tickLength: 4, tickColor: '#222', color: '#222' },
            border: { display: true, color: '#222', width: 1 },
            ticks: {
              autoSkip: false, maxRotation: 0, padding: 8, color: '#444',
              font: { family: SANS, size: p.xFont },
              callback: (v: any) => String(v),
            },
          },
          y: {
            type: 'linear',
            min: p.range[0],
            max: p.range[1],
            position: { x: 0 } as any,
            afterBuildTicks: (ax: any) => { ax.ticks = p.yTicks.map((v) => ({ value: v })); },
            grid: { drawOnChartArea: true, drawTicks: true, tickLength: 5, color: '#4a4a4a', tickColor: '#222', lineWidth: 1 },
            border: { display: true, color: '#222', width: 1 },
            ticks: {
              autoSkip: false, color: '#444',
              font: { family: SANS, size: p.yFont },
              callback: (v: any) => String(v) + p.yGap,
            },
          },
        },
      } as any,
      plugins: [framePlugin],
    });
    return () => chart.destroy();
  }, []);
  return <canvas ref={ref} width={p.w} height={p.h} style={{ position: 'absolute', left: p.left, top: p.top, width: p.w, height: p.h }} />;
}

function Txt({ text, cx, baseline, size }: { text: React.ReactNode; cx: number; baseline: number; size: number }) {
  return (
    <div style={{ position: 'absolute', left: cx, top: baseline - 0.8375 * size, transform: 'translateX(-50%)', fontFamily: SERIF, fontSize: size, lineHeight: `${size}px`, whiteSpace: 'nowrap', color: '#111' }}>
      {text}
    </div>
  );
}

function VTxt({ text, cx, cy, size }: { text: React.ReactNode; cx: number; cy: number; size: number }) {
  return (
    <div style={{ position: 'absolute', left: cx, top: cy, transform: 'translate(-50%, -50%) rotate(-90deg)', fontFamily: SERIF, fontSize: size, lineHeight: `${size}px`, whiteSpace: 'nowrap', color: '#111' }}>
      {text}
    </div>
  );
}

function StatBox({ lines, left, top, w, h, textLeft, baselines }: { lines: string[]; left: number; top: number; w: number; h: number; textLeft: number; baselines: number[] }) {
  const size = 21;
  return (
    <>
      <div style={{ position: 'absolute', left, top, width: w, height: h, boxSizing: 'border-box', border: '2px solid #2a2a2a', background: '#fff' }} />
      {lines.map((t, i) => (
        <div key={i} style={{ position: 'absolute', left: textLeft, top: baselines[i] - 0.8375 * size, fontFamily: SERIF, fontSize: size, lineHeight: `${size}px`, whiteSpace: 'nowrap', color: '#111' }}>{t}</div>
      ))}
    </>
  );
}

const deg = (label: string) => (
  <span>{label} (<span style={{ fontSize: '0.62em', position: 'relative', top: '-0.55em' }}>o</span>C)</span>
);

export default function App() {
  return (
    <div style={{ position: 'absolute', left: 0, top: 0, width: 867, height: 790, overflow: 'hidden', background: '#fff' }}>
      <Panel left={0} top={0} w={462} h={370} pad={{ left: 52, top: 37, right: 17, bottom: 28 }} range={[-5, 45]}
        xTicks={tmaxXTicksNR} yTicks={tmaxYTicks} points={tmaxNR.concat(tmaxNRMore)} diag={diagTmaxNR} style="rectRot" radius={3.7} xFont={11} yFont={10} yGap={'\u2002\u2009'} />
      <Panel left={462} top={0} w={420} h={370} pad={{ left: 15, top: 37, right: 15, bottom: 28 }} range={[-5, 45]}
        xTicks={tmaxXTicksR1} yTicks={tmaxYTicks} points={tmaxR1.concat(tmaxR1More)} diag={diagTmaxR1} style="rectRot" radius={3.7} xFont={11} yFont={10} yGap={'\u2002\u2009'} />
      <Panel left={0} top={400} w={462} h={370} pad={{ left: 46, top: 49, right: 18, bottom: 29 }} range={[-20, 30]}
        xTicks={tminXTicks} yTicks={tminYTicks} points={tminNR.concat(tminNRMore)} diag={diagTminNR} style="circle" radius={1.7} xFont={12} yFont={12} yGap={'\u2002\u2009'} />
      <Panel left={462} top={400} w={425} h={370} pad={{ left: 18, top: 49, right: 19, bottom: 29 }} range={[-20, 30]}
        xTicks={tminXTicks} yTicks={tminYTicks} points={tminR1.concat(tminR1More)} diag={diagTminR1} style="circle" radius={1.7} xFont={12} yFont={12} yGap={'\u2002\u2009'} />

      <Txt text="NR" cx={244} baseline={26.5} size={24} />
      <Txt text="R1" cx={694} baseline={26} size={24} />
      <Txt text="NR" cx={244} baseline={441.5} size={24} />
      <Txt text="R1" cx={660} baseline={441.5} size={24} />

      <Txt text={deg('Station Tmax')} cx={478} baseline={386.5} size={24} />
      <Txt text={deg('Station Tmin')} cx={453} baseline={783} size={24} />
      <VTxt text={deg('Grid point Tmax')} cx={25} cy={188} size={24} />
      <VTxt text={deg('Grid point Tmin')} cx={24} cy={583} size={24} />

      <StatBox lines={statsTmaxNR} left={92} top={39} w={110} h={91} textLeft={109} baselines={[69.3, 94, 119.3]} />
      <StatBox lines={statsTmaxR1} left={516} top={39} w={108} h={91} textLeft={533} baselines={[70, 95, 120]} />
      <StatBox lines={statsTminNR} left={47} top={452} w={110} h={91} textLeft={65} baselines={[480, 506, 531.7]} />
      <StatBox lines={statsTminR1} left={482} top={452} w={109} h={91} textLeft={499} baselines={[479.3, 504, 529.3]} />
    </div>
  );
}
